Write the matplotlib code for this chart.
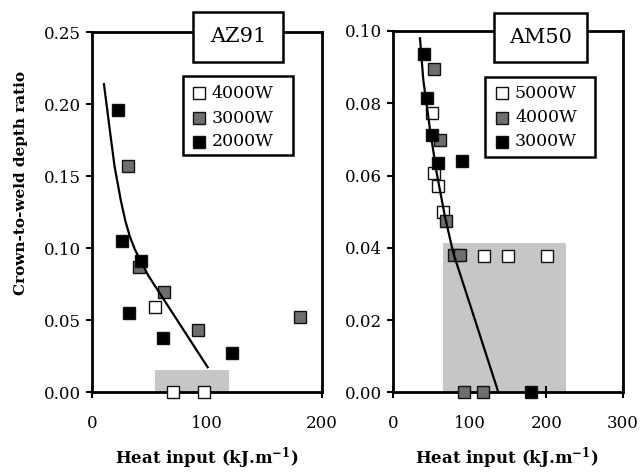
import matplotlib
matplotlib.use("Agg")
import matplotlib.pyplot as plt
from matplotlib.patches import Rectangle

plt.rcParams['font.family'] = ['DejaVu Serif']
plt.rcParams['mathtext.fontset'] = 'dejavuserif'

# ---------------- data ----------------
# AZ91 panel
az_4000_x = [54.8, 70.7, 97.7]
az_4000_y = [0.059, 0.0, 0.0]
az_3000_x = [31.6, 41.2, 62.6, 91.9, 180.9]
az_3000_y = [0.157, 0.087, 0.070, 0.043, 0.052]
az_2000_x = [22.3, 26.4, 42.6, 32.2, 62.0, 121.4]
az_2000_y = [0.196, 0.105, 0.091, 0.055, 0.038, 0.027]
az_fit_x = [10.4, 15.5, 19.6, 25.0, 29.0, 33.0, 37.4, 49.0, 100.6]
az_fit_y = [0.214, 0.182, 0.157, 0.1335, 0.119, 0.108, 0.099, 0.081, 0.0174]
az_shade_x = [54.5, 119.0]
az_shade_top = 0.0155

# AM50 panel
am_5000_x = [51.3, 53.9, 58.3, 65.6, 118.7, 150.4, 200.4]
am_5000_y = [0.0773, 0.0607, 0.0570, 0.0500, 0.0376, 0.0376, 0.0376]
am_4000_x = [53.9, 61.3, 68.7, 80.0, 87.4, 92.6, 117.8]
am_4000_y = [0.0895, 0.0699, 0.0473, 0.0380, 0.0380, 0.0, 0.0]
am_3000_x = [40.8, 43.9, 51.3, 59.1, 89.6, 180.0]
am_3000_y = [0.0937, 0.0814, 0.0713, 0.0634, 0.0639, 0.0]
am_fit_x = [35.2, 39.5, 48.3, 57.0, 67.8, 78.7, 107.0, 137.4]
am_fit_y = [0.098, 0.0865, 0.0727, 0.0607, 0.0486, 0.0385, 0.0200, 0.0]
am_shade_x = [65.6, 225.3]
am_shade_top = 0.0413

az_labels = ['4000W', '3000W', '2000W']
am_labels = ['5000W', '4000W', '3000W']
az_yticks = [0.00, 0.05, 0.10, 0.15, 0.20, 0.25]
am_yticks = [0.00, 0.02, 0.04, 0.06, 0.08, 0.10]
az_xticks = [0, 100, 200]
am_xticks = [0, 100, 200, 300]

# ---------------- figure ----------------
W, H = 642, 473
fig = plt.figure(figsize=(W / 100, H / 100), dpi=100)

fills = ['white', '#6e6e6e', 'black']
shade_color = '#c6c6c6'
edge = '#111111'


def setup(ax, xlim, xticks, ylim, yticks, yfmt):
    ax.set_xlim(*xlim)
    ax.set_ylim(*ylim)
    ax.set_xticks(xticks)
    ax.set_yticks(yticks)
    ax.set_yticklabels([yfmt.format(v) for v in yticks])
    for s in ax.spines.values():
        s.set_linewidth(2.0)
        s.set_zorder(2.5)
    ax.tick_params(axis='y', direction='out', length=4, width=1.5,
                   labelsize=12, pad=4)
    ax.tick_params(axis='x', direction='inout', length=9, width=1.5,
                   labelsize=12, pad=12)


def panel(ax, xs, ys, fit_x, fit_y, shade_x, shade_top, ms):
    ax.add_patch(Rectangle((shade_x[0], 0), shade_x[1] - shade_x[0], shade_top,
                           facecolor=shade_color, edgecolor='none', zorder=1))
    for x, y, c in zip(xs, ys, fills):
        ax.plot(x, y, linestyle='none', marker='s', markersize=ms,
                markerfacecolor=c, markeredgecolor=edge, markeredgewidth=1.0,
                clip_on=False, zorder=3)
    ax.plot(fit_x, fit_y, color='black', linewidth=1.6, zorder=4)


def title_box(ax, x0, y0, w, h, text):
    ax.add_patch(Rectangle((x0, y0), w, h, transform=ax.transAxes,
                           facecolor='white', edgecolor='black', linewidth=1.8,
                           clip_on=False, zorder=5))
    ax.text(x0 + w / 2, y0 + h / 2, text, transform=ax.transAxes,
            ha='center', va='center', fontsize=15, zorder=6)


def manual_legend(ax, box, mx, tx, rows, labels):
    # box = (x0, y0, w, h) in axes fraction
    ax.add_patch(Rectangle((box[0], box[1]), box[2], box[3], transform=ax.transAxes,
                           facecolor='white', edgecolor='black', linewidth=1.8,
                           clip_on=False, zorder=5))
    for ry, c, lab in zip(rows, fills, labels):
        ax.plot([mx], [ry], transform=ax.transAxes, linestyle='none', marker='s',
                markersize=8.5, markerfacecolor=c, markeredgecolor=edge,
                markeredgewidth=1.0, clip_on=False, zorder=6)
        ax.text(tx, ry, lab, transform=ax.transAxes, ha='left', va='center',
                fontsize=12.5, zorder=6)


def ax_frac(px, py, x0, ybot, w, h):
    return (px - x0) / w, (ybot - py) / h


# left panel geometry (pixels)
L = dict(x0=92, ybot=392.3, w=230, h=360)
ax1 = fig.add_axes([L['x0'] / W, 1 - L['ybot'] / H, L['w'] / W, L['h'] / H])
setup(ax1, (0, 200), az_xticks, (0, 0.25), az_yticks, '{:.2f}')
panel(ax1, [az_4000_x, az_3000_x, az_2000_x], [az_4000_y, az_3000_y, az_2000_y],
      az_fit_x, az_fit_y, az_shade_x, az_shade_top, 9)
title_box(ax1, 0.439, 0.9175, 0.391, 0.139, 'AZ91')
bx0, by1 = ax_frac(183, 76, **L)
bx1, by0 = ax_frac(293, 155, **L)
mx, _ = ax_frac(199, 0, **L)
tx, _ = ax_frac(212, 0, **L)
rows = [ax_frac(0, py, **L)[1] for py in (93, 118, 142)]
manual_legend(ax1, (bx0, by0, bx1 - bx0, by1 - by0), mx, tx, rows, az_labels)

R = dict(x0=393, ybot=392.3, w=230, h=361.3)
ax2 = fig.add_axes([R['x0'] / W, 1 - R['ybot'] / H, R['w'] / W, R['h'] / H])
setup(ax2, (0, 300), am_xticks, (0, 0.10), am_yticks, '{:.2f}')
panel(ax2, [am_5000_x, am_4000_x, am_3000_x], [am_5000_y, am_4000_y, am_3000_y],
      am_fit_x, am_fit_y, am_shade_x, am_shade_top, 8.5)
title_box(ax2, 0.439, 0.914, 0.404, 0.136, 'AM50')
bx0, by1 = ax_frac(485, 77, **R)
bx1, by0 = ax_frac(595, 157, **R)
mx, _ = ax_frac(502, 0, **R)
tx, _ = ax_frac(515, 0, **R)
rows = [ax_frac(0, py, **R)[1] for py in (93, 118, 142)]
manual_legend(ax2, (bx0, by0, bx1 - bx0, by1 - by0), mx, tx, rows, am_labels)

xlabel = r'Heat input (kJ.m$^{\mathbf{-1}}$)'
fig.text(207 / W, 1 - 458 / H, xlabel, ha='center', va='center',
         fontsize=12, fontweight='bold')
fig.text(507 / W, 1 - 458 / H, xlabel, ha='center', va='center',
         fontsize=12, fontweight='bold')
fig.text(21 / W, 1 - 183 / H, 'Crown-to-weld depth ratio', rotation=90,
         ha='center', va='center', fontsize=11, fontweight='bold')

fig.savefig('out.png', dpi=100, facecolor='white')
